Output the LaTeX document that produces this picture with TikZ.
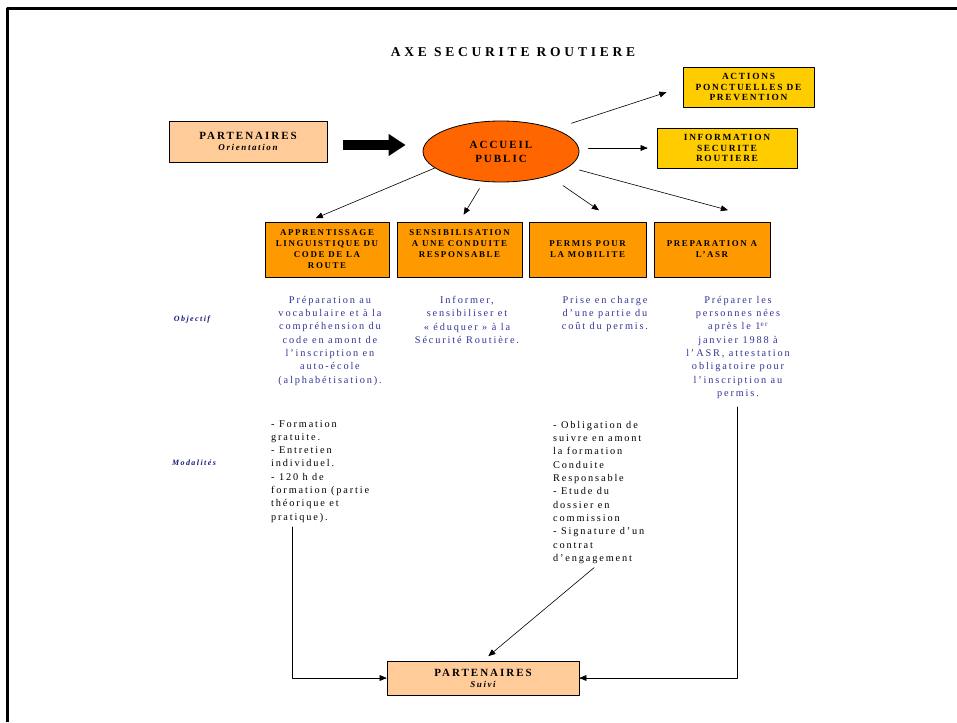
\documentclass[tikz,border=0pt]{standalone}
\usepackage{fontspec}
\setmainfont{Liberation Serif}
\newfontfamily\trackfont[LetterSpace=18]{Liberation Serif}
\newfontfamily\titlefont[LetterSpace=28]{Liberation Serif}
\usetikzlibrary{arrows,arrows.meta,shapes.geometric}

\definecolor{peach}{HTML}{FFCC99}
\definecolor{flame}{HTML}{FF6600}
\definecolor{gold}{HTML}{FFCC00}
\definecolor{amber}{HTML}{FF9900}
\definecolor{inkblue}{HTML}{333399}
\definecolor{navy}{HTML}{1A1A80}

\begin{document}
\begin{tikzpicture}[line cap=round,line join=round,>=triangle 45,x=1pt,y=-1pt,
  boxtext/.style={font=\trackfont\bfseries\fontsize{8.9}{11}\selectfont,align=center,inner sep=0pt},
  axebox/.style={boxtext,draw,line width=0.8pt,minimum height=55pt},
  sidebox/.style={boxtext,draw,line width=0.8pt,font=\trackfont\bfseries\fontsize{9.4}{10.5}\selectfont,fill=gold,minimum height=40pt},
  partbox/.style={draw,line width=0.8pt,fill=peach,align=center,inner sep=0pt,font=\trackfont\bfseries\fontsize{11}{13}\selectfont},
  objtext/.style={font=\trackfont\fontsize{10.3}{13.3}\selectfont,text=inkblue,align=center,inner sep=0pt,anchor=north},
  modtext/.style={font=\trackfont\fontsize{10.3}{13.3}\selectfont,align=left,inner sep=0pt,anchor=north west},
  rowlabel/.style={font=\trackfont\bfseries\itshape\fontsize{8}{10}\selectfont,text=navy,inner sep=0pt},
  link/.style={->,line width=0.6pt}]

\useasboundingbox (0,0) rectangle (957,722);
\draw [line width=3pt,line cap=butt] (7.5,722) -- (7.5,9) -- (957,9);

\node [font=\titlefont\bfseries\fontsize{13.5}{15}\selectfont,inner sep=0pt] (title) at (513,52) {AXE SECURITE ROUTIERE};

\node [partbox,minimum width=158pt,minimum height=41pt] (partOrient) at (248,141.5) {PARTENAIRES\\[-2pt]{\itshape\fontsize{9}{11}\selectfont Orientation}};
\node [ellipse,draw,line width=0.8pt,fill=flame,minimum width=156pt,minimum height=61pt,inner sep=0pt,
  align=center,font=\trackfont\bfseries\fontsize{11}{14}\selectfont] (accueil) at (501,151.5) {ACCUEIL\\PUBLIC};

\node [sidebox,minimum width=131pt] (actions) at (748.5,87) {ACTIONS\\PONCTUELLES DE\\PREVENTION};
\node [sidebox,minimum width=140pt] (info) at (727,148) {INFORMATION\\SECURITE\\ROUTIERE};

\node [axebox,fill=amber,minimum width=124pt] (apprent) at (327,249.5) {APPRENTISSAGE\\LINGUISTIQUE DU\\CODE DE LA\\ROUTE};
\node [axebox,fill=amber,minimum width=125pt] (sensib) at (459.5,249.5) {SENSIBILISATION\\A UNE CONDUITE\\RESPONSABLE\\\mbox{}};
\node [axebox,fill=amber,minimum width=117pt] (permis) at (587.5,249.5) {PERMIS POUR\\LA MOBILITE};
\node [axebox,fill=amber,minimum width=116pt] (asr) at (712,249.5) {PREPARATION A\\L’ASR};

% objectifs
\node [rowlabel] (objLabel) at (192,320) {Objectif};
\node [objtext] (objApprent) at (330,296) {Préparation au\\vocabulaire et à la\\compréhension du\\code en amont de\\l’inscription en\\auto-école\\(alphabétisation).};
\node [objtext] (objSensib) at (467,296) {Informer,\\sensibiliser et\\«~éduquer~» à la\\Sécurité Routière.};
\node [objtext] (objPermis) at (605,296) {Prise en charge\\d’une partie du\\coût du permis.};
\node [objtext] (objAsr) at (738,296) {Préparer les\\personnes nées\\après le 1\textsuperscript{er}\\janvier 1988 à\\l’ASR, attestation\\obligatoire pour\\l’inscription au\\permis.};

% modalites
\node [rowlabel] (modLabel) at (194,463) {Modalités};
\node [modtext] (modApprent) at (271,420) {- Formation\\gratuite.\\- Entretien\\individuel.\\- 120 h de\\formation (partie\\théorique et\\pratique).};
\node [modtext] (modPermis) at (553,421) {- Obligation de\\suivre en amont\\la formation\\Conduite\\Responsable\\- Etude du\\dossier en\\commission\\- Signature d’un\\contrat\\d’engagement};

\node [partbox,minimum width=192pt,minimum height=34pt] (partSuivi) at (483,678) {PARTENAIRES\\[-2pt]{\itshape\fontsize{9}{11}\selectfont Suivi}};

\coordinate (apprDown) at (292,527);
\coordinate (asrDown) at (737,407);

\draw [line width=10pt,line cap=butt,-{Triangle[length=17pt,width=21pt]},shorten <=16pt,shorten >=17pt]
  ([yshift=-3.5pt]partOrient.east) -- ([yshift=-3.5pt]partOrient.east -| accueil.west);

\draw [link,shorten <=18pt,shorten >=17pt] (accueil.23) -- (actions.west);
\draw [link,shorten <=9pt,shorten >=9pt] (accueil.east |- info.west) -- (info.west);
\draw [link,shorten >=9pt] (accueil.194) -- (apprent.125);
\draw [link,shorten <=8pt,shorten >=8pt] (accueil.240) -- (sensib.north);
\draw [link,shorten <=17pt,shorten >=20pt] (accueil.333) -- (permis.45);
\draw [link,shorten <=11pt,shorten >=44pt] (accueil.347) -- (asr.north east);

\draw [link] (apprDown) |- (partSuivi.west);
\draw [link] (asrDown) |- (partSuivi.east);
\draw [link,shorten <=6pt,shorten >=7pt] (modPermis.south) -- (partSuivi.north);

\end{tikzpicture}
\end{document}
